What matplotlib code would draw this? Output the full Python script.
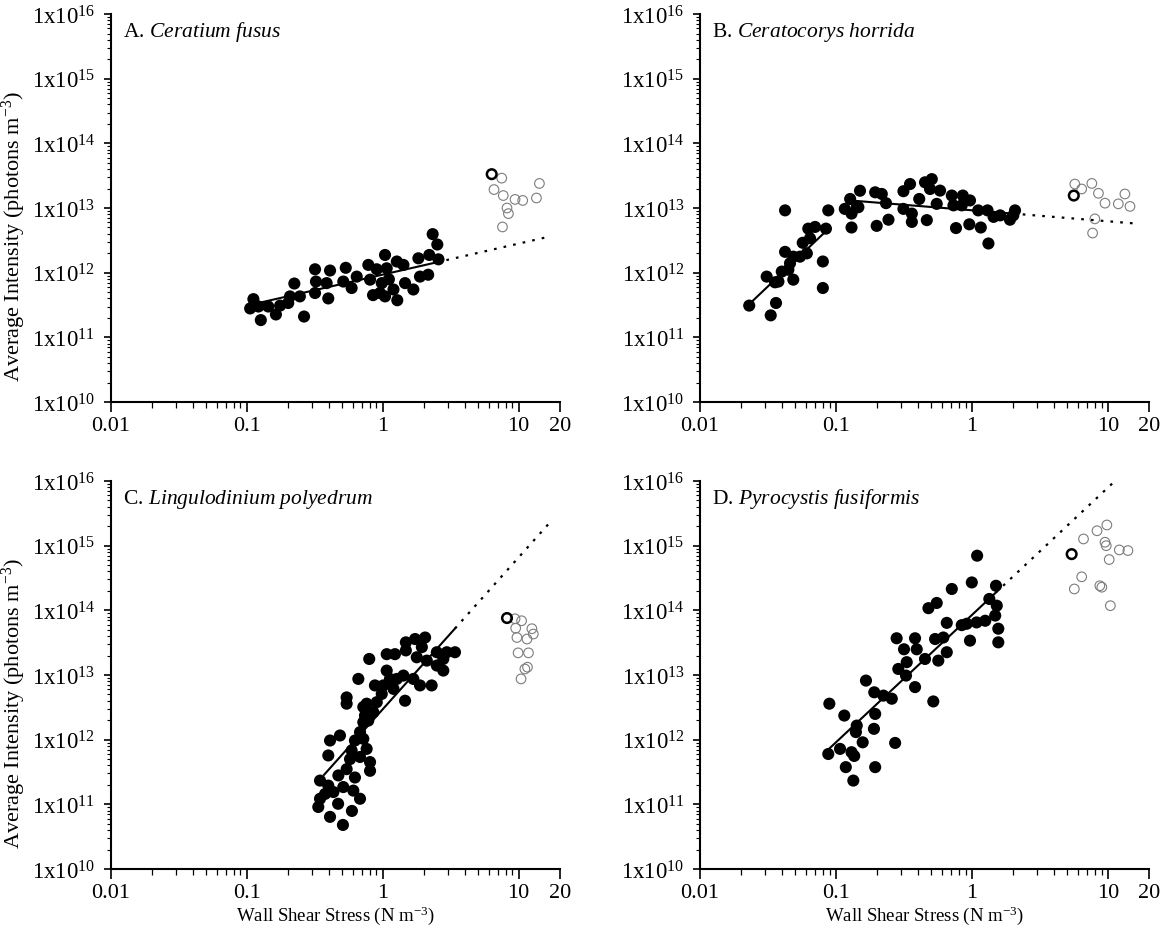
import numpy as np
import matplotlib.pyplot as plt
from matplotlib.ticker import FixedLocator, NullFormatter

plt.rcParams['font.family'] = ['Liberation Serif', 'DejaVu Serif']
plt.rcParams['mathtext.fontset'] = 'custom'
plt.rcParams['mathtext.rm'] = 'Liberation Serif'
plt.rcParams['mathtext.it'] = 'Liberation Serif:italic'

# A. Ceratium fusus
a_x = [0.112, 0.106, 0.127, 0.122, 0.144, 0.164, 0.176, 0.202, 0.208, 0.224,
       0.246, 0.264, 0.318, 0.323, 0.318, 0.398, 0.410, 0.387, 0.535, 0.513,
       0.591, 0.644, 0.784, 0.807, 0.904, 1.04, 0.984, 0.955, 1.07, 1.20,
       1.28, 1.27, 1.42, 1.46, 1.68, 1.83, 1.88, 2.16, 2.20, 2.57,
       2.52, 2.33, 1.04, 0.849, 1.11]
a_y = [3.9e11, 2.8e11, 1.85e11, 3.0e11, 3.0e11, 2.26e11, 3.1e11, 3.4e11, 4.3e11, 6.8e11,
       4.3e11, 2.1e11, 1.13e12, 7.3e11, 4.85e11, 4.0e11, 1.08e12, 6.9e11, 1.19e12, 7.3e11,
       5.8e11, 8.7e11, 1.32e12, 7.8e11, 1.13e12, 1.88e12, 6.9e11, 4.85e11, 1.17e12, 5.5e11,
       3.75e11, 1.49e12, 1.32e12, 6.9e11, 5.5e11, 1.67e12, 8.7e11, 9.3e11, 1.88e12, 1.61e12,
       2.73e12, 3.95e12, 4.3e11, 4.5e11, 7.9e11]
a_open_x = [7.5, 6.58, 7.7, 9.4, 10.7, 14.2, 13.5, 8.2, 8.4, 7.6]
a_open_y = [2.9e13, 1.93e13, 1.56e13, 1.36e13, 1.31e13, 2.4e13, 1.43e13, 1.0e13, 8.2e12, 5.1e12]
a_bold = (6.33, 3.34e13)

# B. Ceratocorys horrida
b_x = [0.0230, 0.0331, 0.0362, 0.0309, 0.0356, 0.0422, 0.0422, 0.0399, 0.0446, 0.0485,
       0.0485, 0.0543, 0.061, 0.0569, 0.0625, 0.0701, 0.0644, 0.0843, 0.0877, 0.080,
       0.080, 0.130, 0.116, 0.130, 0.127, 0.146, 0.150, 0.0377, 0.0459,
       0.194, 0.217, 0.233, 0.199, 0.243, 0.313, 0.350, 0.313, 0.361, 0.361,
       0.409, 0.465, 0.451, 0.506, 0.491, 0.550, 0.582, 0.71, 0.73, 0.762,
       0.855, 0.84, 0.966, 0.955, 1.16, 1.11, 1.30, 1.32, 1.44, 1.61,
       1.90, 2.07, 2.01, 0.142]
b_y = [3.1e11, 2.19e11, 3.4e11, 8.7e11, 7.1e11, 9.2e12, 2.1e12, 1.04e12, 1.11e12, 1.77e12,
       7.8e11, 1.77e12, 1.99e12, 2.9e12, 4.8e12, 5.1e12, 3.4e12, 4.8e12, 9.2e12, 1.49e12,
       5.8e11, 5.0e12, 9.7e12, 8.2e12, 1.38e13, 1.03e13, 1.85e13, 7.3e11, 1.4e12,
       1.75e13, 1.65e13, 1.19e13, 5.3e12, 6.6e12, 1.82e13, 2.35e13, 9.7e12, 8.2e12, 6.1e12,
       1.38e13, 6.5e12, 2.5e13, 2.8e13, 1.97e13, 1.16e13, 1.86e13, 1.56e13, 1.10e13, 4.9e12,
       1.56e13, 1.10e13, 1.31e13, 5.6e12, 5.0e12, 9.2e12, 9.2e12, 2.83e12, 7.3e12, 7.7e12,
       6.6e12, 9.2e12, 7.7e12, 1.03e13]
b_open_x = [5.7, 6.4, 7.6, 8.5, 9.5, 11.9, 13.3, 14.5, 8.0, 7.7]
b_open_y = [2.35e13, 1.97e13, 2.4e13, 1.69e13, 1.19e13, 1.16e13, 1.65e13, 1.06e13, 6.8e12, 4.1e12]
b_bold = (5.6, 1.56e13)

# C. Lingulodinium polyedrum
c_x = [0.796, 0.662, 0.543, 0.543, 1.07, 1.23, 1.48, 1.73, 2.05, 1.94,
       1.48, 1.78, 2.11, 2.50, 2.96, 3.40, 2.79, 2.50, 2.79, 2.29,
       1.88, 1.68, 1.42, 1.27, 1.07, 1.13, 1.01, 0.877, 1.46, 1.20,
       0.984, 0.904, 0.762, 0.72, 0.853, 0.741, 0.72, 0.783, 0.681, 0.72,
       0.625, 0.485, 0.410, 0.398, 0.591, 0.762, 0.681, 0.807, 0.575, 0.543,
       0.807, 0.625, 0.472, 0.346, 0.398, 0.434, 0.513, 0.608, 0.377, 0.346,
       0.336, 0.41, 0.51, 0.594, 0.47, 0.681]
c_y = [1.77e13, 8.7e12, 4.5e12, 3.6e12, 2.1e13, 2.1e13, 3.2e13, 3.6e13, 3.8e13, 2.7e13,
       2.4e13, 1.88e13, 1.67e13, 2.25e13, 2.25e13, 2.25e13, 1.77e13, 1.40e13, 1.17e13, 6.9e12,
       6.9e12, 8.7e12, 9.8e12, 8.7e12, 1.17e13, 8.7e12, 6.9e12, 6.9e12, 4.0e12, 6.1e12,
       5.1e12, 3.8e12, 3.6e12, 3.2e12, 2.66e12, 2.36e12, 1.86e12, 1.97e12, 1.31e12, 1.03e12,
       9.7e11, 1.16e12, 9.7e11, 5.7e11, 6.8e11, 7.2e11, 5.4e11, 4.5e11, 5.0e11, 3.5e11,
       3.3e11, 2.6e11, 2.8e11, 2.33e11, 1.95e11, 1.55e11, 1.85e11, 1.63e11, 1.45e11, 1.22e11,
       9.1e10, 6.4e10, 4.8e10, 7.9e10, 1.02e11, 1.22e11]
c_open_x = [9.4, 10.5, 9.5, 12.5, 12.8, 11.5, 9.7, 9.9, 11.8, 11.6, 11.1, 10.4]
c_open_y = [7.4e13, 6.9e13, 5.3e13, 5.2e13, 4.3e13, 3.6e13, 3.8e13, 2.2e13, 2.2e13, 1.32e13, 1.24e13, 8.7e12]
c_bold = (8.2, 7.6e13)

# D. Pyrocystis fusiformis
d_x = [0.0893, 0.0877, 0.115, 0.107, 0.118, 0.134, 0.130, 0.136, 0.142, 0.140,
       0.157, 0.166, 0.190, 0.194, 0.191, 0.194, 0.223, 0.257, 0.272, 0.287,
       0.279, 0.316, 0.331, 0.327, 0.381, 0.381, 0.392, 0.451, 0.519, 0.535,
       0.615, 0.565, 0.652, 0.652, 0.478, 0.550, 0.71, 0.84, 0.966, 0.914,
       0.996, 1.09, 1.08, 1.25, 1.34, 1.50, 1.52, 1.48, 1.56, 1.56]
d_y = [3.6e12, 6.0e11, 2.36e12, 7.2e11, 3.76e11, 2.33e11, 6.4e11, 5.6e11, 1.65e12, 1.31e12,
       9.1e11, 8.2e12, 1.47e12, 2.5e12, 5.4e12, 3.76e11, 4.8e12, 4.3e12, 8.9e11, 1.24e13,
       3.7e13, 2.5e13, 1.58e13, 9.8e12, 3.7e13, 6.5e12, 2.5e13, 1.77e13, 3.9e12, 3.6e13,
       3.8e13, 1.67e13, 2.25e13, 6.4e13, 1.08e14, 1.30e14, 2.14e14, 5.9e13, 3.4e13, 6.2e13,
       2.7e14, 7.0e14, 6.5e13, 6.9e13, 1.5e14, 2.4e14, 1.18e14, 8.3e13, 5.2e13, 3.2e13]
d_open_x = [6.6, 8.3, 9.8, 9.5, 9.7, 12.1, 14.0, 10.2, 6.4, 5.65, 8.7, 9.0, 10.4]
d_open_y = [1.27e15, 1.7e15, 2.09e15, 1.13e15, 1.0e15, 8.6e14, 8.4e14, 6.1e14, 3.3e14, 2.14e14, 2.4e14, 2.28e14, 1.18e14]
d_bold = (5.4, 7.4e14)

# fitted lines: (x start, x end, log10 intercept, slope); the last one is extended dotted
a_fits = [(0.106, 2.5, 11.97, 0.48)]
b_fits = [(0.023, 0.085, 14.79, 2.0), (0.12, 2.0, 12.965, -0.17)]
c_fits = [(0.37, 3.4, 12.47, 2.35)]
d_fits = [(0.09, 1.5, 13.93, 1.97)]
dot_end = 17

titles = ['A. ', 'B. ', 'C. ', 'D. ']
species = ['Ceratium fusus', 'Ceratocorys horrida', 'Lingulodinium polyedrum', 'Pyrocystis fusiformis']


def fit_line(x0, x1, a, b):
    xs = np.logspace(np.log10(x0), np.log10(x1), 50)
    return xs, 10 ** (a + b * np.log10(xs))


def draw_panel(ax, letter, name, fx, fy, ox, oy, bold, fits, left, bottom):
    ax.scatter(fx, fy, s=76, c='black', edgecolors='none', zorder=3)
    ax.scatter(ox, oy, s=48, facecolors='none', edgecolors='#7c7c7c', linewidths=0.8, zorder=3)
    ax.scatter([bold[0]], [bold[1]], s=48, facecolors='none', edgecolors='black', linewidths=1.8, zorder=4)

    for x0, x1, a, b in fits:
        xs, ys = fit_line(x0, x1, a, b)
        ax.plot(xs, ys, color='black', lw=1.5, zorder=2)
    x0, x1, a, b = fits[-1]
    xs, ys = fit_line(x1, dot_end, a, b)
    ax.plot(xs, ys, color='black', lw=1.6, linestyle=(0, (1.2, 3.2)), zorder=2)

    ax.set_xscale('log')
    ax.set_yscale('log')
    ax.set_xlim(0.01, 20)
    ax.set_ylim(1e10, 1e16)

    ax.set_xticks([0.01, 0.1, 1, 10, 20])
    ax.set_xticklabels(['0.01', '0.1', '1', '10', '20'])
    xminor = [m * 10.0 ** k for k in (-2, -1, 0) for m in range(2, 10)]
    ax.xaxis.set_minor_locator(FixedLocator(xminor))
    ax.xaxis.set_minor_formatter(NullFormatter())

    ydec = list(range(10, 17))
    ax.set_yticks([10.0 ** k for k in ydec])
    ax.set_yticklabels([r'$\mathregular{1x10^{%d}}$' % k for k in ydec])
    yminor = [m * 10.0 ** k for k in range(10, 16) for m in range(2, 10)]
    ax.yaxis.set_minor_locator(FixedLocator(yminor))
    ax.yaxis.set_minor_formatter(NullFormatter())

    for s in ['top', 'right']:
        ax.spines[s].set_visible(False)
    for s in ['left', 'bottom']:
        ax.spines[s].set_linewidth(1.5)

    ax.tick_params(axis='x', which='major', direction='out', length=7, width=1.2, labelsize=16, pad=3)
    ax.tick_params(axis='x', which='minor', direction='out', length=4, width=0.9)
    ax.tick_params(axis='y', which='major', direction='out', length=5, width=1.2, labelsize=16.5, pad=6)
    ax.tick_params(axis='y', which='minor', direction='out', length=3, width=0.8)

    ax.text(0.027, 0.955, letter + r'$\mathit{' + name.replace(' ', r'\ ') + '}$',
            transform=ax.transAxes, fontsize=15.5, ha='left', va='center')

    if left:
        ax.set_ylabel(r'Average Intensity (photons m$^{\mathregular{-3}}$)', fontsize=16)
        ax.yaxis.set_label_coords(-0.184, 0.428)
    if bottom:
        ax.set_xlabel(r'Wall Shear Stress (N m$^{\mathregular{-3}}$)', fontsize=13.5)
        ax.xaxis.set_label_coords(0.5, -0.088)


fig = plt.figure(figsize=(11.64, 9.28), dpi=100)
w, h = 0.3857, 0.4181
ax_a = fig.add_axes([0.0951, 0.5657, w, h])
ax_b = fig.add_axes([0.6014, 0.5657, w, h])
ax_c = fig.add_axes([0.0951, 0.0625, w, h])
ax_d = fig.add_axes([0.6014, 0.0625, w, h])

draw_panel(ax_a, titles[0], species[0], a_x, a_y, a_open_x, a_open_y, a_bold, a_fits, True, False)
draw_panel(ax_b, titles[1], species[1], b_x, b_y, b_open_x, b_open_y, b_bold, b_fits, False, False)
draw_panel(ax_c, titles[2], species[2], c_x, c_y, c_open_x, c_open_y, c_bold, c_fits, True, True)
draw_panel(ax_d, titles[3], species[3], d_x, d_y, d_open_x, d_open_y, d_bold, d_fits, False, True)

fig.savefig('out.png', dpi=100)
